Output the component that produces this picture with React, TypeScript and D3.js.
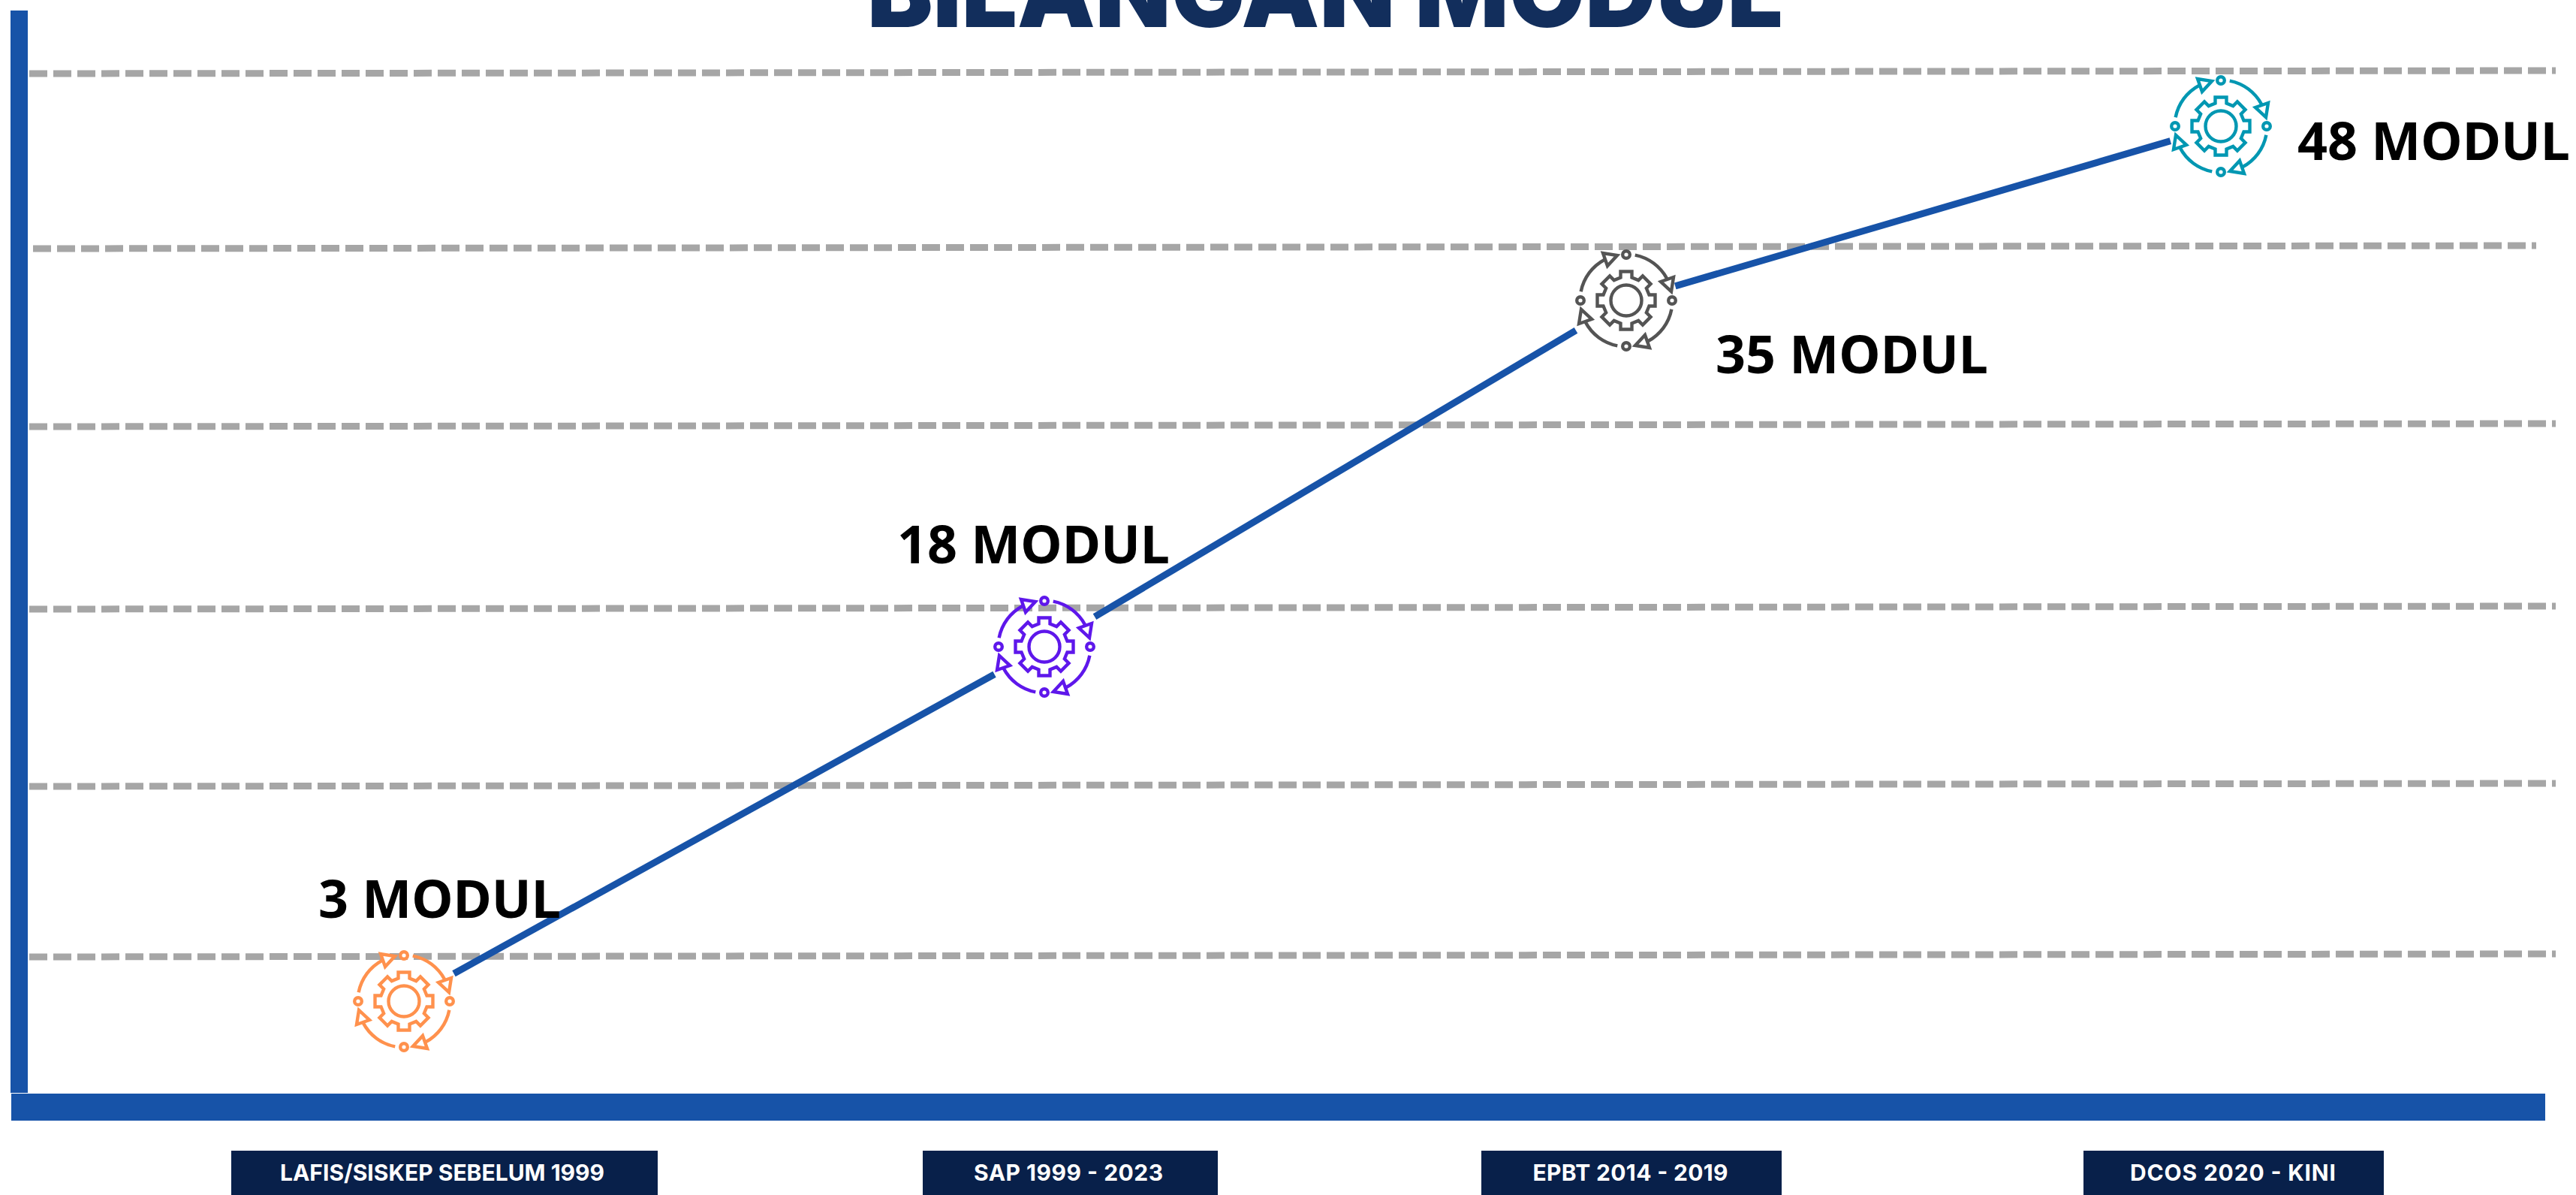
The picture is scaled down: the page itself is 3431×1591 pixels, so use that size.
import React from 'react';
import * as d3 from 'd3';

const categories = ['LAFIS/SISKEP SEBELUM 1999', 'SAP 1999 - 2023', 'EPBT 2014 - 2019', 'DCOS 2020 - KINI'];
const modulCounts = [3, 18, 35, 48];
const modulLabels = ['3 MODUL', '18 MODUL', '35 MODUL', '48 MODUL'];
const iconColors = ['#FF914D', '#5E17EB', '#545454', '#0097B2'];
const gridTicks = [0, 1, 2, 3, 4, 5];

const WIDTH = 3431;
const HEIGHT = 1591;
const BLUE = '#1753A8';
const NAVY = '#08204A';

// the picture isn't drawn to scale, so both scales have a stop per category
const x = d3.scaleOrdinal<string, number>().domain(categories).range([538, 1391, 2166, 2958]);
const y = d3.scaleLinear().domain(modulCounts).range([1333, 861, 400, 168]);
const boxX = d3.scaleOrdinal<string, number>().domain(categories).range([592, 1425.5, 2173, 2975]);
const boxW = d3.scaleOrdinal<string, number>().domain(categories).range([568, 393, 400, 400]);
const textX = d3.scaleOrdinal<string, number>().domain(categories).range([589, 1423, 2171.5, 2974]);
const textW = d3.scaleOrdinal<string, number>().domain(categories).range([432, 252, 260, 274]);
const gridY = d3.scaleLinear().domain(gridTicks).range([1274, 1047, 811, 568, 331, 98]);

const gridStart = [39, 39, 39, 39, 44, 39];
const gridEnd = [3404, 3404, 3404, 3404, 3378, 3404];
const lineGaps: [number, number][] = [[76, 76], [78, 78], [68, 70]];
const labelPos = [[424, 1222], [1195, 750], [2285, 497], [3060, 213]];

const points = categories.map((c, i) => ({ cat: c, value: modulCounts[i], px: x(c), py: y(modulCounts[i]) }));
const line = d3.line<number[]>();

const segment = (i: number) => {
    const a = points[i];
    const b = points[i + 1];
    const len = Math.hypot(b.px - a.px, b.py - a.py);
    const ux = (b.px - a.px) / len;
    const uy = (b.py - a.py) / len;
    const [g0, g1] = lineGaps[i];
    return line([[a.px + ux * g0, a.py + uy * g0], [b.px - ux * g1, b.py - uy * g1]]) || '';
};

// gear outline, 8 teeth
const gearPath = () => {
    const tooth = [[-7.5, -30.5], [-7.5, -38.5], [7.5, -38.5], [7.5, -30.5]];
    const pts: number[][] = [];
    d3.range(8).forEach(k => {
        const a = (k * Math.PI) / 4;
        tooth.forEach(([px, py]) => {
            pts.push([px * Math.cos(a) - py * Math.sin(a), px * Math.sin(a) + py * Math.cos(a)]);
        });
    });
    return line(pts) + 'Z';
};

const arcPath = () => {
    const p = d3.path();
    p.arc(0, 0, 61.5, (-79 * Math.PI) / 180, (-28 * Math.PI) / 180);
    return p.toString();
};

const Icon = ({ cx, cy, color }: { cx: number; cy: number; color: string }) => (
    <g transform={`translate(${cx},${cy})`} fill="none" stroke={color} strokeWidth={4.4} strokeLinejoin="miter">
        <path d={gearPath()} />
        <circle r={20.5} />
        {[0, 90, 180, 270].map(r => (
            <g key={r} transform={`rotate(${r})`}>
                <path d={arcPath()} />
                <path d="M46,-25L63,-31L60,-12Z" fill="#fff" />
                <circle cx={0} cy={-61} r={4.8} fill="#fff" />
            </g>
        ))}
    </g>
);

export default function App() {
    return (
        <svg
            width={WIDTH}
            height={HEIGHT}
            viewBox={`0 0 ${WIDTH} ${HEIGHT}`}
            style={{ position: 'absolute', left: 0, top: 0, display: 'block', background: '#fff' }}
        >
            <text x={1155} y={36} fontFamily="Inter" fontWeight={900} fontSize={131} fill="#122E5C">
                BILANGAN MODUL
            </text>

            {gridTicks.map((t, i) => (
                <line
                    key={t}
                    x1={gridStart[i]}
                    x2={gridEnd[i]}
                    y1={gridY(t)}
                    y2={gridY(t) - 4}
                    stroke="#A6A6A6"
                    strokeWidth={9}
                    strokeDasharray="24 8"
                />
            ))}

            <rect x={14} y={14} width={23} height={1441} fill={BLUE} />
            <rect x={15} y={1456} width={3375} height={36} fill={BLUE} />

            {d3.range(points.length - 1).map(i => (
                <path key={i} d={segment(i)} stroke={BLUE} strokeWidth={9} fill="none" />
            ))}

            {points.map((p, i) => (
                <Icon key={p.cat} cx={p.px} cy={p.py} color={iconColors[i]} />
            ))}

            {modulLabels.map((l, i) => (
                <text
                    key={l}
                    x={labelPos[i][0]}
                    y={labelPos[i][1]}
                    fontFamily="'Noto Sans'"
                    fontWeight={700}
                    fontSize={70}
                    fill="#000"
                >
                    {l}
                </text>
            ))}

            {categories.map(c => (
                <g key={c}>
                    <rect x={boxX(c) - boxW(c) / 2} y={1532} width={boxW(c)} height={59} fill={NAVY} />
                    <text
                        x={textX(c)}
                        y={1572}
                        textAnchor="middle"
                        textLength={textW(c)}
                        fontFamily="Inter"
                        fontWeight={700}
                        fontSize={30}
                        fill="#fff"
                    >
                        {c}
                    </text>
                </g>
            ))}
        </svg>
    );
}
